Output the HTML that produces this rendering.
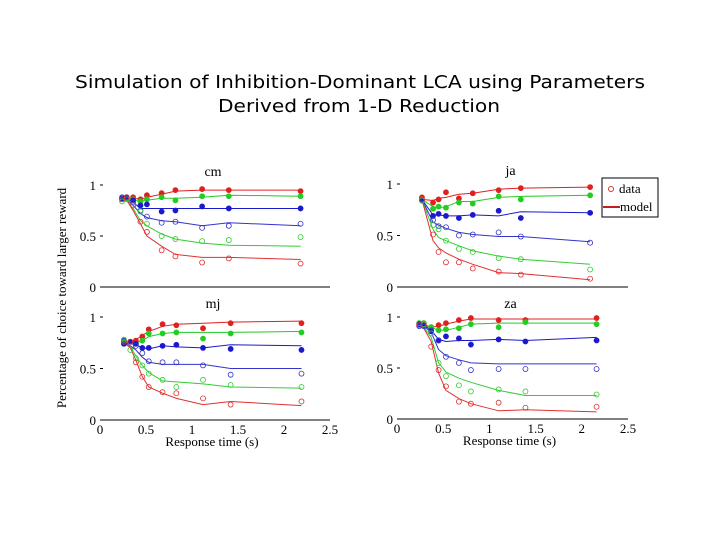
<!DOCTYPE html>
<html><head><meta charset="utf-8"><style>
html,body{margin:0;padding:0;background:#fff;}
svg{display:block;}
</style></head><body>
<svg id="fig" width="720" height="540" xmlns="http://www.w3.org/2000/svg">
<text x="360" y="88" text-anchor="middle" font-family="DejaVu Sans, sans-serif" font-size="17.5" textLength="570" lengthAdjust="spacingAndGlyphs">Simulation of Inhibition-Dominant LCA using Parameters</text>
<text x="359" y="112" text-anchor="middle" font-family="DejaVu Sans, sans-serif" font-size="17.5" textLength="282" lengthAdjust="spacingAndGlyphs">Derived from 1-D Reduction</text>
<text transform="translate(66,298) rotate(-90)" text-anchor="middle" font-family="Liberation Serif, serif" font-size="13">Percentage of choice toward larger reward</text>
<g id="panels"></g>
<g>
<rect x="602" y="178" width="56" height="39" fill="#fff" stroke="#000" stroke-width="1"/>
<circle cx="611" cy="189" r="2.5" fill="none" stroke="#e03030"/>
<text x="619" y="193" font-family="Liberation Serif, serif" font-size="13">data</text>
<line x1="603" y1="207" x2="620" y2="207" stroke="#c02020" stroke-width="2"/>
<text x="620" y="211" font-family="Liberation Serif, serif" font-size="13">model</text>
</g>
</svg>
<script>
// colors of the six series: red filled, green filled, blue filled, blue open, green open, red open
const seriesColors = ["#e02020","#22cc22","#1a1acc","#3333cc","#33cc33","#e03030"];
const seriesFilled = [true,true,true,false,false,false];

const cmTime = [0.24,0.29,0.36,0.44,0.51,0.67,0.82,1.11,1.40,2.18];
const cmObs = [
 [0.87,0.87,0.88,0.86,0.90,0.92,0.95,0.96,0.95,0.94],
 [0.86,0.87,0.86,0.84,0.86,0.88,0.85,0.89,0.89,0.89],
 [0.87,0.88,0.85,0.80,0.81,0.74,0.75,0.79,0.77,0.77],
 [0.88,0.88,0.83,0.75,0.69,0.63,0.64,0.58,0.60,0.62],
 [0.84,0.86,0.80,0.74,0.62,0.50,0.47,0.45,0.46,0.49],
 [0.86,0.88,0.80,0.64,0.54,0.36,0.30,0.24,0.28,0.23]];
const cmModel = [
 [0.86,0.87,0.87,0.86,0.88,0.91,0.94,0.95,0.95,0.95],
 [0.86,0.86,0.85,0.84,0.85,0.87,0.87,0.88,0.90,0.89],
 [0.87,0.87,0.83,0.77,0.77,0.77,0.77,0.77,0.77,0.77],
 [0.87,0.86,0.80,0.72,0.68,0.65,0.64,0.60,0.63,0.60],
 [0.87,0.85,0.77,0.65,0.60,0.52,0.47,0.43,0.41,0.40],
 [0.87,0.85,0.75,0.62,0.50,0.40,0.32,0.29,0.29,0.27]];

const jaTime = [0.27,0.39,0.45,0.53,0.67,0.82,1.10,1.34,2.09];
const jaObs = [
 [0.87,0.82,0.85,0.92,0.86,0.91,0.94,0.96,0.97],
 [0.85,0.76,0.78,0.77,0.82,0.81,0.88,0.85,0.89],
 [0.84,0.69,0.71,0.69,0.67,0.70,0.74,0.67,0.72],
 [0.84,0.65,0.59,0.58,0.50,0.51,0.53,0.49,0.43],
 [0.84,0.60,0.56,0.45,0.37,0.34,0.28,0.27,0.17],
 [0.85,0.51,0.34,0.24,0.24,0.18,0.15,0.12,0.08]];
const jaModel = [
 [0.85,0.84,0.86,0.87,0.90,0.91,0.95,0.96,0.97],
 [0.85,0.78,0.77,0.78,0.83,0.83,0.87,0.88,0.89],
 [0.85,0.70,0.70,0.69,0.69,0.70,0.69,0.73,0.72],
 [0.85,0.63,0.60,0.57,0.53,0.51,0.49,0.49,0.44],
 [0.85,0.56,0.48,0.45,0.40,0.35,0.30,0.27,0.22],
 [0.85,0.45,0.38,0.33,0.27,0.22,0.14,0.13,0.07]];

const mjTime = [0.26,0.33,0.39,0.46,0.53,0.68,0.83,1.12,1.42,2.19];
const mjObs = [
 [0.77,0.76,0.77,0.81,0.88,0.93,0.92,0.89,0.94,0.94],
 [0.77,0.76,0.74,0.77,0.84,0.84,0.85,0.79,0.84,0.85],
 [0.74,0.76,0.74,0.70,0.70,0.72,0.73,0.70,0.69,0.68],
 [0.77,0.76,0.72,0.65,0.57,0.56,0.56,0.53,0.44,0.45],
 [0.78,0.68,0.60,0.53,0.45,0.39,0.32,0.39,0.34,0.32],
 [0.76,0.76,0.56,0.42,0.32,0.27,0.26,0.21,0.15,0.18]];
const mjModel = [
 [0.76,0.76,0.78,0.82,0.86,0.91,0.93,0.94,0.95,0.96],
 [0.76,0.76,0.75,0.77,0.81,0.84,0.85,0.85,0.85,0.86],
 [0.75,0.74,0.73,0.70,0.69,0.72,0.71,0.70,0.73,0.72],
 [0.75,0.72,0.68,0.61,0.56,0.54,0.54,0.54,0.50,0.50],
 [0.75,0.71,0.62,0.53,0.46,0.38,0.37,0.35,0.32,0.31],
 [0.75,0.70,0.58,0.42,0.32,0.26,0.21,0.15,0.18,0.14]];

const zaTime = [0.24,0.29,0.37,0.45,0.53,0.67,0.80,1.10,1.39,2.16];
const zaObs = [
 [0.93,0.94,0.90,0.92,0.94,0.97,0.99,0.97,0.97,0.99],
 [0.94,0.94,0.90,0.87,0.88,0.89,0.93,0.90,0.95,0.93],
 [0.93,0.92,0.86,0.77,0.81,0.79,0.73,0.78,0.76,0.77],
 [0.91,0.91,0.87,0.77,0.61,0.55,0.48,0.49,0.49,0.49],
 [0.94,0.93,0.84,0.55,0.42,0.33,0.27,0.29,0.27,0.24],
 [0.92,0.92,0.71,0.48,0.32,0.17,0.15,0.16,0.11,0.12]];
const zaModel = [
 [0.92,0.92,0.90,0.91,0.93,0.96,0.98,0.98,0.98,0.98],
 [0.93,0.93,0.90,0.87,0.87,0.90,0.93,0.94,0.94,0.94],
 [0.93,0.92,0.87,0.78,0.76,0.77,0.77,0.78,0.77,0.80],
 [0.93,0.91,0.85,0.68,0.62,0.58,0.55,0.54,0.54,0.54],
 [0.93,0.90,0.80,0.55,0.46,0.40,0.36,0.28,0.23,0.23],
 [0.93,0.89,0.76,0.45,0.28,0.20,0.15,0.08,0.09,0.07]];

const xTicks = [0,0.5,1,1.5,2,2.5];
const xTickLabels = ["0","0.5","1","1.5","2","2.5"];
const yTicks = [0,0.5,1];
const yTickLabels = ["0","0.5","1"];

const NS = "http://www.w3.org/2000/svg";
const root = document.getElementById("panels");
function mk(tag, attrs, parent){
  const e = document.createElementNS(NS, tag);
  for (const k in attrs) e.setAttribute(k, attrs[k]);
  parent.appendChild(e);
  return e;
}
const panels = [
 {name:"cm", t:cmTime, obs:cmObs, model:cmModel, x0:100, x1:330, y0:287, y1:185, xlabels:false},
 {name:"ja", t:jaTime, obs:jaObs, model:jaModel, x0:397, x1:628, y0:287, y1:184, xlabels:false},
 {name:"mj", t:mjTime, obs:mjObs, model:mjModel, x0:100, x1:330, y0:420, y1:317, xlabels:true},
 {name:"za", t:zaTime, obs:zaObs, model:zaModel, x0:397, x1:628, y0:419, y1:317, xlabels:true}
];
panels.forEach(p => {
  const g = mk("g", {}, root);
  
  
  const xs = v => p.x0 + (p.x1 - p.x0) * v / 2.5;
  const ys = v => p.y0 + (p.y1 - p.y0) * v;
  const ax = mk("path", {d:`M${p.x0},${p.y0} L${p.x1},${p.y0}`, fill:"none", stroke:"#000", "stroke-width":1}, g);
  
  
  yTicks.forEach((v,i) => {
    const tk = mk("line", {x1:p.x0, x2:p.x0+3, y1:ys(v), y2:ys(v), stroke:"#000", "stroke-width":1}, g);
    
    
    const t = mk("text", {x:p.x0-4, y:ys(v)+5, "text-anchor":"end", "font-family":"Liberation Serif, serif", "font-size":13}, g);
    t.textContent = yTickLabels[i];
    
    
  });
  if (p.xlabels) {
    xTicks.forEach((v,i) => {
      const t = mk("text", {x:xs(v), y:p.y0+14, "text-anchor":"middle", "font-family":"Liberation Serif, serif", "font-size":13}, g);
      t.textContent = xTickLabels[i];
      
      
    });
    const xl = mk("text", {x:(p.x0+p.x1)/2 - 3, y:p.y0+26, "text-anchor":"middle", "font-family":"Liberation Serif, serif", "font-size":13}, g);
    xl.textContent = "Response time (s)";
    
    
  }
  const title = mk("text", {x:(p.x0+p.x1)/2 - 2, y:ys(1)-9, "text-anchor":"middle", "font-family":"Liberation Serif, serif", "font-size":14}, g);
  title.textContent = p.name;
  
  
  p.model.forEach((ser, si) => {
    const d = ser.map((v,i) => (i ? "L" : "M") + xs(p.t[i]).toFixed(1) + "," + ys(v).toFixed(1)).join(" ");
    const l = mk("path", {d:d, fill:"none", stroke:seriesColors[si], "stroke-width":1}, g);
    
    
  });
  p.obs.forEach((ser, si) => {
    ser.forEach((v,i) => {
      const c = mk("circle", {cx:xs(p.t[i]), cy:ys(v), r: seriesFilled[si] ? 2.6 : 2.5,
        fill: seriesFilled[si] ? seriesColors[si] : "none", stroke: seriesColors[si], "stroke-width": seriesFilled[si] ? 0.6 : 0.8}, g);
      
      
    });
  });
});
</script>
</body></html>
